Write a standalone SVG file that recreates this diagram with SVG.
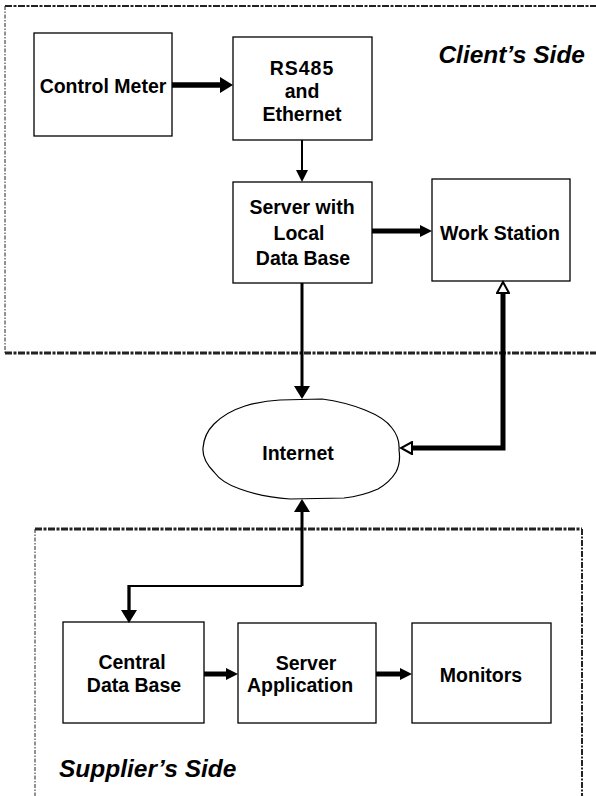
<svg xmlns="http://www.w3.org/2000/svg" width="596" height="796" viewBox="0 0 596 796">
<style>
.box{fill:#fff;stroke:#000;stroke-width:1.3}
.t{font-family:"Liberation Sans",Arial,sans-serif;font-weight:bold;font-size:19.5px;text-anchor:middle;fill:#000}
.side{font-family:"Liberation Sans",Arial,sans-serif;font-weight:bold;font-style:italic;font-size:24.5px;fill:#000}
.c{fill:none;stroke:#000}
.dashH{stroke:#222;stroke-width:2.2;stroke-dasharray:7 1.5 3 1.5;fill:none}
.dashV{stroke:#222;stroke-width:1;stroke-dasharray:4 1.5 1.5 1.5;fill:none}
.dashV2{stroke:#222;stroke-width:2;stroke-dasharray:6 1.5 2 1.5;fill:none}
</style>
<defs>
<marker id="hf" markerUnits="userSpaceOnUse" markerWidth="14" markerHeight="16" refX="0" refY="8" orient="auto-start-reverse"><path d="M0,0 L13,8 L0,16 Z" fill="#000"/></marker>
<marker id="hs" markerUnits="userSpaceOnUse" markerWidth="13" markerHeight="13" refX="0" refY="6.5" orient="auto-start-reverse"><path d="M0,0.5 L12,6.5 L0,12.5 Z" fill="#000"/></marker>
<marker id="ho" markerUnits="userSpaceOnUse" markerWidth="14" markerHeight="14" refX="1" refY="7" orient="auto-start-reverse"><path d="M1,1 L12,7 L1,13 Z" fill="#fff" stroke="#000" stroke-width="2"/></marker>
</defs>

<g id="client-region">
<path class="dashH" d="M5,6 H596"/>
<path class="dashV" d="M5,6 V353"/>
<path class="dashH" d="M5,353 H596" style="stroke-width:3"/>
<text class="side" x="585" y="63" text-anchor="end">Client’s Side</text>
</g>

<g id="supplier-region">
<path class="dashH" d="M35,529 H582" style="stroke-width:3"/>
<path class="dashV" d="M35,529 V796"/>
<path class="dashV2" d="M582,529 V796"/>
<text class="side" x="59" y="777">Supplier’s Side</text>
</g>

<g id="control-meter"><rect class="box" x="34" y="33" width="138" height="103"/><text class="t" x="103" y="93">Control Meter</text></g>
<g id="rs485"><rect class="box" x="233" y="37" width="139" height="103"/><text class="t" x="302" y="75" letter-spacing="1">RS485</text><text class="t" x="302" y="98">and</text><text class="t" x="302" y="121">Ethernet</text></g>
<g id="server-local"><rect class="box" x="233" y="182" width="139" height="101"/><text class="t" x="302" y="214">Server with</text><text class="t" x="299" y="240">Local</text><text class="t" x="303" y="265">Data Base</text></g>
<g id="work-station"><rect class="box" x="432" y="179" width="138" height="102"/><text class="t" x="500" y="240">Work Station</text></g>
<g id="internet"><path d="M280,400 L322,399 Q345,402 365,410 Q385,418 392,428 Q400,438 399,450 Q401,462 396,472 Q390,482 378,489 Q362,496 344,498 L290,499 Q262,497 240,489 Q222,483 214,472 Q202,460 203,448 Q204,434 214,424 Q226,412 245,406 Q262,401 280,400 Z" fill="#fff" stroke="#000" stroke-width="1.2"/><text class="t" x="298" y="460">Internet</text></g>
<g id="central-db"><rect class="box" x="63" y="622" width="141" height="101"/><text class="t" x="132" y="669">Central</text><text class="t" x="134" y="692">Data Base</text></g>
<g id="server-app"><rect class="box" x="238" y="623" width="138" height="100"/><text class="t" x="306" y="670">Server</text><text class="t" x="300" y="692">Application</text></g>
<g id="monitors"><rect class="box" x="412" y="623" width="139" height="100"/><text class="t" x="481" y="682">Monitors</text></g>

<g id="connectors">
<path class="c" d="M172,85 H220" stroke-width="5.5" marker-end="url(#hf)"/>
<path class="c" d="M302,140 V170" stroke-width="2" marker-end="url(#hs)"/>
<path class="c" d="M372,231 H420" stroke-width="5" marker-end="url(#hs)"/>
<path class="c" d="M302,283 V386" stroke-width="3" marker-end="url(#hf)"/>
<path class="c" d="M412,448 H503 V293" stroke-width="5" marker-start="url(#ho)" marker-end="url(#ho)"/>
<path class="c" d="M302,512 V586" stroke-width="3" marker-start="url(#hf)"/>
<path class="c" d="M302,586 H129" stroke-width="2" stroke="#333"/>
<path class="c" d="M129,585 V610" stroke-width="3.3" marker-end="url(#hf)"/>
<path class="c" d="M204,674 H226" stroke-width="5" marker-end="url(#hs)"/>
<path class="c" d="M376,674 H400" stroke-width="5" marker-end="url(#hs)"/>
</g>
</svg>
